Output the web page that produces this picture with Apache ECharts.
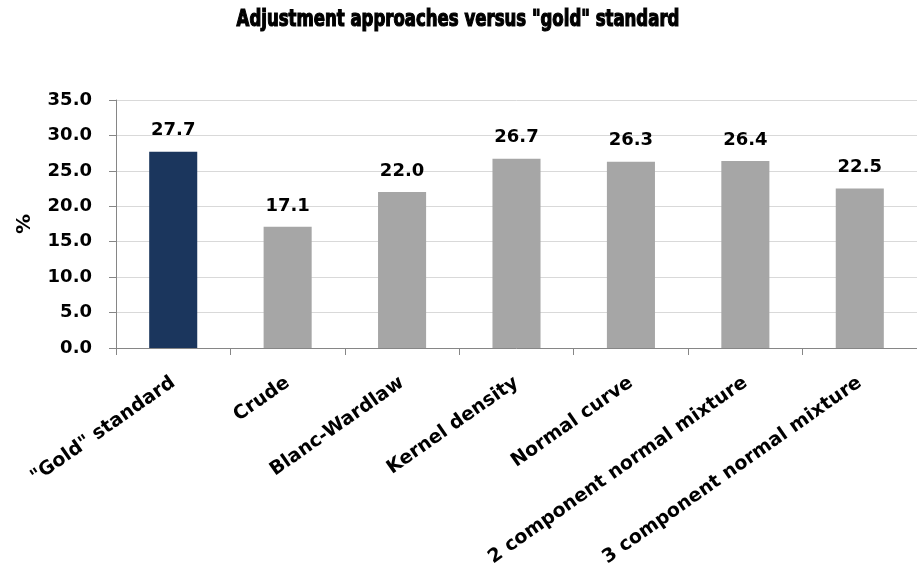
<!DOCTYPE html>
<html>
<head>
<meta charset="utf-8">
<script src="https://cdn.jsdelivr.net/npm/echarts@6/dist/echarts.min.js"></script>
<style>
  html, body { margin: 0; padding: 0; background: #fff; }
  #chart { width: 917px; height: 577px; }
</style>
</head>
<body>
<div id="chart"></div>
<script>
// Prevalence estimates (%) for each adjustment approach
const categories = ['"Gold" standard', 'Crude', 'Blanc-Wardlaw', 'Kernel density',
                    'Normal curve', '2 component normal mixture', '3 component normal mixture'];
const values = [27.7, 17.1, 22.0, 26.7, 26.3, 26.4, 22.5];
const yTicks = { min: 0, max: 35, interval: 5 };
const titleText = 'Adjustment approaches versus "gold" standard';

const FONT = 'DejaVu Sans';
const NAVY = '#1b365d';
const GRAY = '#a6a6a6';

const chart = echarts.init(document.getElementById('chart'), null, { renderer: 'canvas' });

chart.setOption({
  backgroundColor: '#ffffff',
  animation: false,
  // heavy, slightly condensed heading
  graphic: [{
    type: 'text',
    x: 458,
    y: 9,
    scaleX: 0.8,
    style: {
      text: titleText,
      font: 'bold 23px "DejaVu Sans Condensed", "DejaVu Sans"',
      fill: '#000',
      stroke: '#000',
      lineWidth: 1.2,
      textAlign: 'center',
      textVerticalAlign: 'top'
    }
  }],
  grid: { left: 116, top: 100, width: 802, height: 248, containLabel: false },
  xAxis: {
    type: 'category',
    data: categories,
    axisLine: { lineStyle: { color: '#868686', width: 1 } },
    axisTick: { show: true, length: 7, alignWithLabel: false, lineStyle: { color: '#868686' } },
    axisLabel: {
      interval: 0,
      rotate: 35,
      margin: 33,
      fontFamily: FONT,
      fontWeight: 'bold',
      fontSize: 19,
      color: '#000'
    }
  },
  yAxis: {
    type: 'value',
    min: yTicks.min,
    max: yTicks.max,
    interval: yTicks.interval,
    name: '%',
    nameLocation: 'middle',
    nameGap: 81,
    nameRotate: 90,
    nameTextStyle: { fontFamily: FONT, fontWeight: 'bold', fontSize: 20, color: '#000' },
    axisLine: { show: true, lineStyle: { color: '#868686' } },
    axisTick: { show: true, length: 7, inside: false, lineStyle: { color: '#868686' } },
    splitLine: { show: true, lineStyle: { color: '#d9d9d9', width: 1 } },
    axisLabel: {
      margin: 24,
      fontFamily: FONT,
      fontWeight: 'bold',
      fontSize: 18,
      color: '#000',
      formatter: v => v.toFixed(1)
    }
  },
  series: [{
    type: 'bar',
    data: values.map((v, i) => ({ value: v, itemStyle: { color: i === 0 ? NAVY : GRAY } })),
    barWidth: '42%',
    label: {
      show: true,
      position: 'top',
      distance: 12,
      fontFamily: FONT,
      fontWeight: 'bold',
      fontSize: 18,
      color: '#000',
      formatter: p => p.value.toFixed(1)
    }
  }]
});
</script>
</body>
</html>
